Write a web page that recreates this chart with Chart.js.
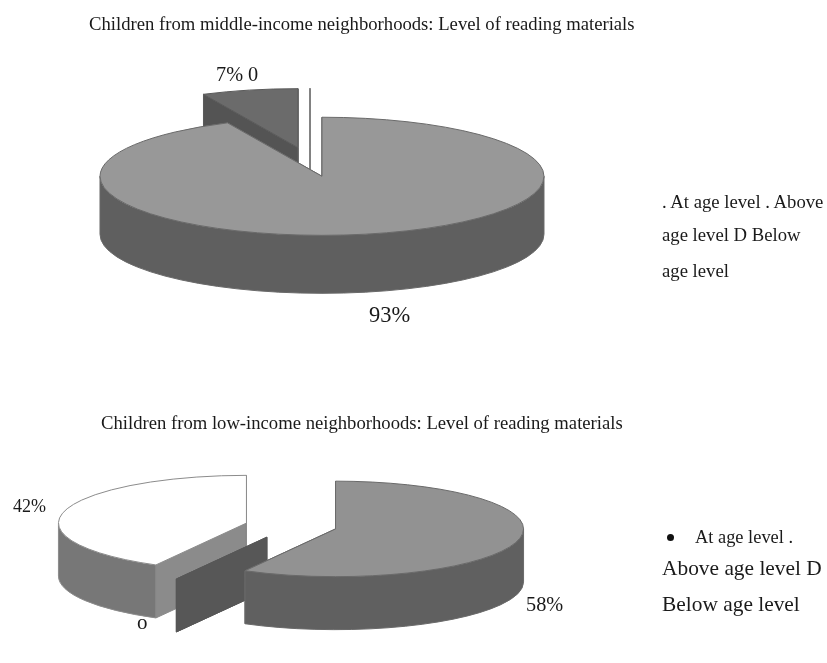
<!DOCTYPE html>
<html>
<head>
<meta charset="utf-8">
<script src="https://cdn.jsdelivr.net/npm/chart.js@4"></script>
<style>
  html, body { margin: 0; padding: 0; background: #fff; }
  #page { position: relative; width: 827px; height: 663px; overflow: hidden; font-family: "Liberation Serif", serif; color: #1a1a1a; }
  canvas { position: absolute; left: 0; filter: blur(0.4px); }
  #topChart { top: 0; }
  #lowChart { top: 331px; }
  .t { position: absolute; white-space: nowrap; line-height: 1; }
  #bullet { position: absolute; left: 667px; top: 534px; width: 7px; height: 7px; border-radius: 50%; background: #111; }
</style>
</head>
<body>
<div id="page">
  <canvas id="topChart" width="827" height="331"></canvas>
  <canvas id="lowChart" width="827" height="332"></canvas>

  <div class="t" style="left:89px;top:15px;font-size:18.66px">Children from middle-income neighborhoods: Level of reading materials</div>
  <div class="t" style="left:101px;top:414px;font-size:18.66px">Children from low-income neighborhoods: Level of reading materials</div>

  <div class="t" style="left:216px;top:64px;font-size:20.3px">7% 0</div>
  <div class="t" style="left:369px;top:304px;font-size:22.5px">93%</div>
  <div class="t" style="left:13px;top:497px;font-size:18px">42%</div>
  <div class="t" style="left:526px;top:594px;font-size:20.3px">58%</div>
  <div class="t" style="left:137px;top:612px;font-size:21px">o</div>

  <div class="t" style="left:662px;top:193px;font-size:18.7px">. At age level . Above</div>
  <div class="t" style="left:662px;top:226px;font-size:18.7px">age level D Below</div>
  <div class="t" style="left:662px;top:262px;font-size:18.7px">age level</div>

  <div id="bullet"></div>
  <div class="t" style="left:695px;top:528px;font-size:18.4px">At age level .</div>
  <div class="t" style="left:662px;top:558px;font-size:21.4px">Above age level D</div>
  <div class="t" style="left:662px;top:594px;font-size:21.4px">Below age level</div>
</div>

<script>
// values
const categories = ["At age level", "Above age level", "Below age level"];
const middleIncome = [93, 7, 0];
const lowIncome = [58, 0, 42];

// 3D look
const middleTop = ["#989898", "#6b6b6b", "#ffffff"];
const middleRim = ["#5f5f5f", "#5f5f5f", "#7a7a7a"];
const middleCut = ["#5f5f5f", "#545454", "#7a7a7a"];
const lowTop = ["#929292", "#575757", "#ffffff"];
const lowRim = ["#606060", "#575757", "#777777"];
const lowCut = ["#606060", "#575757", "#8b8b8b"];

// pie standing on a tilted plane, each slice pulled out along its own angle
class Pie3DController extends Chart.PieController {
  draw() {
    const ctx = this.chart.ctx;
    const ds = this.getDataset();
    const arcs = this._cachedMeta.data;
    for (const i of ds.paintOrder) {
      drawSlice(ctx, arcs[i], ds, i);
    }
  }
}
Pie3DController.id = "pie3d";
Chart.register(Pie3DController);

function drawSlice(ctx, arc, ds, i) {
  const p = arc.getProps(["x", "y", "startAngle", "endAngle", "outerRadius"], true);
  const o = arc.options;
  const mid = (p.startAngle + p.endAngle) / 2;
  const rx = p.outerRadius;
  const ry = rx * ds.tilt;
  const d = ds.depth;
  const x = p.x + Math.cos(mid) * o.offset;
  const y = p.y + Math.sin(mid) * o.offset * ds.tilt;
  const edge = a => [x + Math.cos(a) * rx, y + Math.sin(a) * ry];

  ctx.save();
  ctx.lineJoin = "round";
  ctx.lineWidth = ds.edgeWidth;
  ctx.strokeStyle = ds.edgeColor[i];

  // cut faces
  for (const a of [p.startAngle, p.endAngle]) {
    const [ex, ey] = edge(a);
    ctx.beginPath();
    ctx.moveTo(x, y);
    ctx.lineTo(ex, ey);
    ctx.lineTo(ex, ey + d);
    ctx.lineTo(x, y + d);
    ctx.closePath();
    ctx.fillStyle = ds.cutColor[i];
    ctx.fill();
    ctx.stroke();
  }

  // front of the rim
  const from = Math.max(p.startAngle, 0);
  const to = Math.min(p.endAngle, Math.PI);
  if (to > from) {
    ctx.beginPath();
    ctx.ellipse(x, y, rx, ry, 0, from, to);
    ctx.ellipse(x, y + d, rx, ry, 0, to, from, true);
    ctx.closePath();
    ctx.fillStyle = ds.rimColor[i];
    ctx.fill();
    ctx.stroke();
  }

  // top face
  if (p.endAngle > p.startAngle) {
    ctx.beginPath();
    ctx.moveTo(x, y);
    ctx.ellipse(x, y, rx, ry, 0, p.startAngle, p.endAngle);
    ctx.closePath();
    ctx.fillStyle = o.backgroundColor;
    ctx.fill();
    ctx.stroke();
  }
  ctx.restore();
}

function makePie(id, values, top, rim, cut, edges, extra, radius, padding) {
  return new Chart(document.getElementById(id), {
    type: "pie3d",
    data: {
      labels: categories,
      datasets: [Object.assign({
        data: values,
        backgroundColor: top,
        rimColor: rim,
        cutColor: cut,
        edgeColor: edges,
        edgeWidth: 1,
        clip: false
      }, extra)]
    },
    options: {
      responsive: false,
      animation: false,
      radius: radius,
      layout: { padding: padding },
      plugins: { legend: { display: false }, tooltip: { enabled: false }, title: { display: false } }
    }
  });
}

makePie("topChart", middleIncome, middleTop, middleRim, middleCut,
  ["#6a6a6a", "#5a5a5a", "#7a7a7a"],
  { offset: 55, tilt: 0.266, depth: 58, paintOrder: [1, 2, 0] },
  222, { right: 207, bottom: 7 });

makePie("lowChart", lowIncome, lowTop, lowRim, lowCut,
  ["#6a6a6a", "#575757", "#8b8b8b"],
  { offset: [46, 50, 46], tilt: 0.254, depth: 53, paintOrder: [2, 1, 0] },
  188, { right: 245, top: 58 });
</script>
</body>
</html>
